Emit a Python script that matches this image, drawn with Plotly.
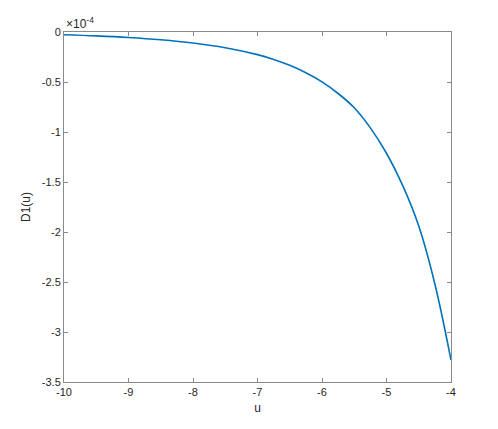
import plotly.graph_objects as go

# D1(u) values (in units of 1e-4)
u = [-10, -9.5, -9, -8.5, -8, -7.5, -7, -6.75, -6.5, -6.25, -6, -5.75, -5.5,
     -5.25, -5, -4.75, -4.5, -4.25, -4]
d1 = [-0.027, -0.0384, -0.0545, -0.0774, -0.110, -0.157, -0.226, -0.274, -0.333,
      -0.408, -0.499, -0.615, -0.758, -0.959, -1.2125, -1.534, -1.94, -2.52,
      -3.28]

x_ticks = [-10, -9, -8, -7, -6, -5, -4]
x_labels = ['-10', '-9', '-8', '-7', '-6', '-5', '-4']
y_ticks = [0, -0.5, -1, -1.5, -2, -2.5, -3, -3.5]
y_labels = ['0', '-0.5', '-1', '-1.5', '-2', '-2.5', '-3', '-3.5']

fig = go.Figure()
fig.add_trace(go.Scatter(
    x=u, y=d1, mode='lines',
    line=dict(color='#0072BD', width=1.6, shape='spline', smoothing=1.0),
    showlegend=False
))

axis_style = dict(
    showline=True, linecolor='#8a8a8a', linewidth=1, mirror='ticks',
    ticks='inside', ticklen=4, tickcolor='#8a8a8a', showgrid=False,
    zeroline=False, tickfont=dict(family='Liberation Sans', size=11, color='#262626'),
)

fig.update_layout(
    width=498, height=429,
    margin=dict(l=56, r=55, t=24, b=55),
    paper_bgcolor='white', plot_bgcolor='white',
    xaxis=dict(range=[-10, -4], tickvals=x_ticks, ticktext=x_labels,
               title=dict(text='u', standoff=6,
                          font=dict(family='Liberation Sans', size=12, color='#262626')),
               **axis_style),
    yaxis=dict(range=[-3.5, 0], tickvals=y_ticks, ticktext=y_labels,
               title=dict(text='D1(u)', standoff=8,
                          font=dict(family='Liberation Sans', size=12, color='#262626')),
               **axis_style),
    annotations=[dict(text='×10<sup>-4</sup>', xref='paper', yref='paper', x=0, y=1,
                      xanchor='left', yanchor='bottom', showarrow=False, yshift=-1,
                      font=dict(family='Liberation Sans', size=12, color='#262626'))],
)

fig.write_html("out.html")
